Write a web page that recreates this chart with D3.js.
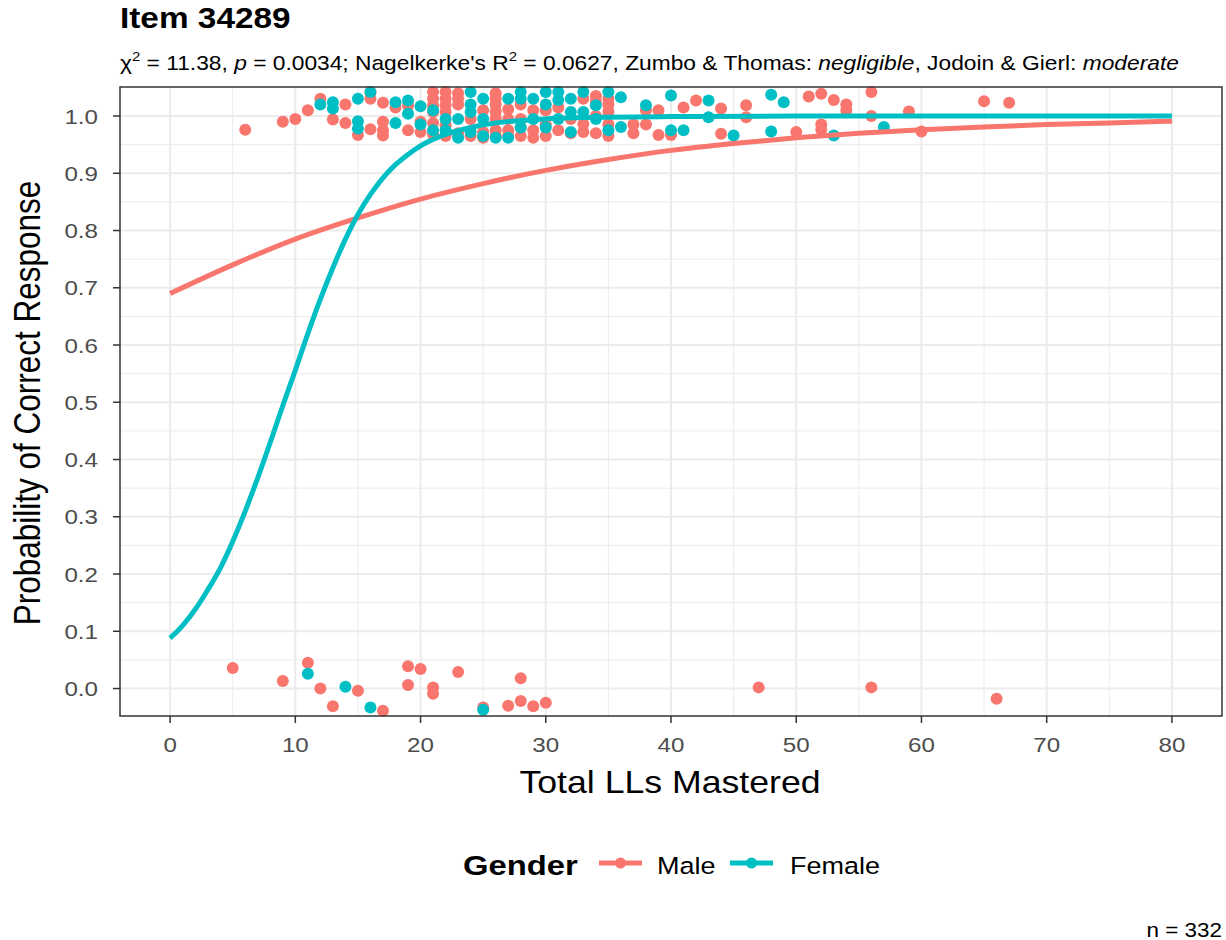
<!DOCTYPE html>
<html><head><meta charset="utf-8">
<script src="https://cdn.jsdelivr.net/npm/d3@7"></script>
<style>
body{margin:0;background:#fff}
svg{display:block}
text{font-family:"Liberation Sans",Arial,sans-serif}
</style>
</head><body>
<svg id="chart" width="1226" height="940"></svg>
<script>
// ---------------- data ----------------
const titleText = "Item 34289";
const xTicks = [0, 10, 20, 30, 40, 50, 60, 70, 80];
const yTicks = [0, 0.1, 0.2, 0.3, 0.4, 0.5, 0.6, 0.7, 0.8, 0.9, 1.0];
const yTickLabels = ["0.0","0.1","0.2","0.3","0.4","0.5","0.6","0.7","0.8","0.9","1.0"];
const xMinor = [5, 15, 25, 35, 45, 55, 65, 75];
const yMinor = [0.05, 0.15, 0.25, 0.35, 0.45, 0.55, 0.65, 0.75, 0.85, 0.95];
const groups = ["Male", "Female"];
const colors = ["#F8766D", "#00BFC4"];

// fitted curves
const maleCurveX = [0, 5, 10, 15, 20, 25, 30, 35, 40, 45, 50, 55, 60, 65, 70, 75, 80];
const maleCurveY = [0.69, 0.74, 0.785, 0.822, 0.855, 0.882, 0.905, 0.924, 0.94, 0.952, 0.962, 0.97, 0.976, 0.981, 0.985, 0.988, 0.991];
const femaleCurveX = [0, 1, 2, 3, 4, 5, 6, 7, 8, 9, 10, 11, 12, 13, 14, 15, 16, 17, 18, 19, 20, 22, 24, 26, 28, 30, 35, 40, 50, 60, 70, 80];
const femaleCurveY = [0.088, 0.11, 0.138, 0.172, 0.21, 0.257, 0.31, 0.368, 0.43, 0.494, 0.556, 0.62, 0.68, 0.735, 0.785, 0.828, 0.863, 0.892, 0.915, 0.933, 0.948, 0.968, 0.98, 0.988, 0.992, 0.995, 0.998, 0.999, 1.0, 1.0, 1.0, 1.0];

// jittered responses (x = total LLs mastered, y = jittered 0/1)
const malePoints = [
  [6,0.976],[9,0.99],[10,0.995],[11,1.01],[12,1.03],[13,0.994],[14,1.02],[14,0.988],[15,0.967],
  [16,1.041],[16,1.03],[16,0.977],[17,1.023],[17,0.99],[17,0.975],[17,0.966],[18,1.015],[19,1.019],[19,0.975],
  [20,0.99],[20,0.972],
  [21,1.042],[21,1.03],[21,1.019],[21,1.007],[21,0.988],[21,0.968],
  [22,1.042],[22,1.03],[22,1.019],[22,1.007],[22,0.984],[22,0.965],
  [23,1.04],[23,1.03],[23,1.02],[23,0.97],
  [24,0.995],[24,0.965],
  [25,1.01],[25,0.972],[25,0.962],
  [26,1.04],[26,1.03],[26,1.02],[26,1.008],[26,0.996],[26,0.975],[26,0.965],
  [27,1.012],[27,0.995],[27,0.975],[27,0.965],
  [28,1.02],[28,0.995],[28,0.98],[28,0.965],
  [29,1.01],[29,0.975],[29,0.962],
  [30,1.01],[30,0.985],[30,0.965],
  [31,1.015],[31,0.975],
  [32,0.995],[32,0.97],
  [33,1.03],[33,0.986],[33,0.972],
  [34,1.035],[34,1.025],[34,1.0],[34,0.97],
  [35,1.03],[35,1.02],[35,1.008],[35,0.985],[35,0.965],
  [37,0.985],[37,0.97],[38,1.01],[38,0.985],[39,1.01],[39,0.967],[40,0.967],[41,1.015],[42,1.027],
  [44,1.013],[44,0.969],[46,1.019],[46,0.998],[50,0.972],[51,1.034],[52,1.039],[52,0.985],[52,0.976],
  [53,1.028],[54,1.02],[54,1.01],[56,1.042],[56,1.0],[59,1.008],[60,0.973],[65,1.026],[67,1.023],
  [5,0.036],[9,0.013],[11,0.045],[12,0.0],[13,-0.031],[15,-0.004],[17,-0.039],[19,0.039],[19,0.006],
  [20,0.034],[21,0.002],[21,-0.009],[23,0.029],[25,-0.033],[27,-0.03],[28,0.018],[28,-0.022],
  [29,-0.031],[30,-0.025],[47,0.002],[56,0.002],[66,-0.018]
];
const femalePoints = [
  [12,1.02],[13,1.024],[13,1.013],[15,1.03],[15,0.991],[15,0.978],[16,1.042],[18,1.024],[18,0.988],
  [19,1.027],[19,1.004],[20,1.017],[20,0.985],
  [21,1.01],[21,0.975],[22,0.995],[22,0.975],[23,0.995],[23,0.962],
  [24,1.042],[24,1.02],[24,1.007],[24,0.972],[25,1.03],[25,0.995],[25,0.965],[26,0.962],
  [27,1.03],[27,0.962],[28,1.042],[28,1.03],[28,0.98],[29,1.03],[29,0.995],
  [30,1.042],[30,1.02],[30,0.98],[31,1.042],[31,1.028],[31,0.995],[32,1.03],[32,1.007],[32,0.972],
  [33,1.042],[33,1.007],[34,1.019],[34,0.995],[35,1.042],[35,0.975],[36,1.033],[36,0.981],
  [38,1.019],[40,1.036],[40,0.975],[41,0.975],[43,1.027],[43,0.998],[45,0.966],[48,1.037],[48,0.973],
  [49,1.024],[53,0.966],[57,0.981],
  [11,0.026],[14,0.003],[16,-0.033],[25,-0.037]
];
const nLabel = "n = 332";

// ---------------- layout ----------------
const SX = 1.15; // horizontal text stretch seen in the reference
const P = {left:120, right:1222, top:87, bottom:716};
const svg = d3.select("#chart");
const x = d3.scaleLinear().domain([-4, 84]).range([P.left, P.right]);
const y = d3.scaleLinear().domain([-0.048, 1.0507]).range([P.bottom, P.top]);

function stext(px, py, str, size, opts={}) {
  const t = svg.append("text")
    .attr("transform", `translate(${px},${py}) scale(${SX},1)` + (opts.rotate ? ` rotate(${opts.rotate})` : ""))
    .attr("font-size", size)
    .attr("fill", opts.fill || "#000")
    .attr("text-anchor", opts.anchor || "start")
    .attr("font-weight", opts.bold ? "bold" : null)
    .text(str);
  return t;
}

// panel background
svg.append("rect").attr("x",P.left).attr("y",P.top).attr("width",P.right-P.left).attr("height",P.bottom-P.top).attr("fill","#fff");

// grid
const grid = svg.append("g");
grid.selectAll(".xm").data(xMinor).join("line")
  .attr("x1",d=>x(d)).attr("x2",d=>x(d)).attr("y1",P.top).attr("y2",P.bottom)
  .attr("stroke","#EBEBEB").attr("stroke-width",1);
grid.selectAll(".ym").data(yMinor).join("line")
  .attr("y1",d=>y(d)).attr("y2",d=>y(d)).attr("x1",P.left).attr("x2",P.right)
  .attr("stroke","#EBEBEB").attr("stroke-width",1);
grid.selectAll(".xM").data(xTicks).join("line")
  .attr("x1",d=>x(d)).attr("x2",d=>x(d)).attr("y1",P.top).attr("y2",P.bottom)
  .attr("stroke","#EBEBEB").attr("stroke-width",2);
grid.selectAll(".yM").data(yTicks).join("line")
  .attr("y1",d=>y(d)).attr("y2",d=>y(d)).attr("x1",P.left).attr("x2",P.right)
  .attr("stroke","#EBEBEB").attr("stroke-width",2);

// points
const pts = svg.append("g");
[malePoints, femalePoints].forEach((arr, i) => {
  pts.selectAll(null).data(arr).join("circle")
    .attr("cx", d => x(d[0])).attr("cy", d => y(d[1])).attr("r", 6)
    .attr("fill", colors[i]);
});

// curves
const line = d3.line().x(d=>x(d[0])).y(d=>y(d[1])).curve(d3.curveMonotoneX);
const maleCurve = maleCurveX.map((v,i)=>[v, maleCurveY[i]]);
const femaleCurve = femaleCurveX.map((v,i)=>[v, femaleCurveY[i]]);
[maleCurve, femaleCurve].forEach((c,i) => {
  svg.append("path").attr("d", line(c)).attr("fill","none")
    .attr("stroke", colors[i]).attr("stroke-width", 5);
});

// border
svg.append("rect").attr("x",P.left).attr("y",P.top).attr("width",P.right-P.left).attr("height",P.bottom-P.top)
  .attr("fill","none").attr("stroke","#333333").attr("stroke-width",1.5);

// axes ticks
const ax = svg.append("g");
ax.selectAll(".xt").data(xTicks).join("line")
  .attr("x1",d=>x(d)).attr("x2",d=>x(d)).attr("y1",P.bottom).attr("y2",P.bottom+7)
  .attr("stroke","#333333").attr("stroke-width",1.5);
ax.selectAll(".yt").data(yTicks).join("line")
  .attr("y1",d=>y(d)).attr("y2",d=>y(d)).attr("x1",P.left-7).attr("x2",P.left)
  .attr("stroke","#333333").attr("stroke-width",1.5);
xTicks.forEach(d => stext(x(d), 752, String(d), 21, {anchor:"middle", fill:"#4D4D4D"}));
yTicks.forEach((d,i) => stext(98, y(d)+7.5, yTickLabels[i], 21, {anchor:"end", fill:"#4D4D4D"}));

// axis titles
stext((P.left+P.right)/2 - 1, 793, "Total LLs Mastered", 31, {anchor:"middle"});
stext(40, 403, "Probability of Correct Response", 31.5, {anchor:"middle", rotate:-90});

// title & subtitle
stext(120, 28, titleText, 29, {bold:true});
const sub = svg.append("text")
  .attr("transform", `translate(120,70) scale(${SX},1)`)
  .attr("font-size", 19.8).attr("fill","#000");
sub.append("tspan").text("\u03C7");
sub.append("tspan").attr("font-size",13).attr("dy",-9).text("2");
sub.append("tspan").attr("dy",9).text(" = 11.38, ");
sub.append("tspan").attr("font-style","italic").text("p");
sub.append("tspan").text(" = 0.0034; Nagelkerke's R");
sub.append("tspan").attr("font-size",13).attr("dy",-9).text("2");
sub.append("tspan").attr("dy",9).text(" = 0.0627, Zumbo & Thomas: ");
sub.append("tspan").attr("font-style","italic").text("negligible");
sub.append("tspan").text(", Jodoin & Gierl: ");
sub.append("tspan").attr("font-style","italic").text("moderate");

// legend
stext(463, 875, "Gender", 28.5, {bold:true});
const keyX = [599, 730];
const labX = [657, 790];
groups.forEach((g,i) => {
  svg.append("line").attr("x1",keyX[i]).attr("x2",keyX[i]+43).attr("y1",863).attr("y2",863)
    .attr("stroke",colors[i]).attr("stroke-width",5);
  svg.append("circle").attr("cx",keyX[i]+21.5).attr("cy",863).attr("r",5.5).attr("fill",colors[i]);
  stext(labX[i], 874, g, 23.5);
});

// caption
stext(1222, 937, nLabel, 19.5, {anchor:"end"});
</script>
</body></html>
